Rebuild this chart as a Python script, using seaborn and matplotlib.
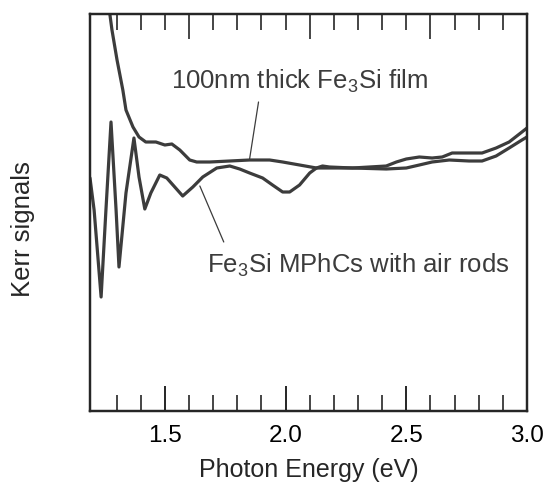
import numpy as np
import pandas as pd
import matplotlib
matplotlib.use("Agg")
import matplotlib.pyplot as plt
from matplotlib.ticker import FixedLocator, NullFormatter
import seaborn as sns

# Data (photon energy in eV, Kerr signal in arbitrary units)
film_x = [1.265, 1.281, 1.302, 1.326, 1.339, 1.368, 1.393, 1.421, 1.463, 1.500, 1.529,
          1.562, 1.603, 1.632, 1.686, 1.769, 1.851, 1.934, 1.988, 2.058, 2.128, 2.182,
          2.277, 2.417, 2.500, 2.554, 2.607, 2.678, 2.760, 2.814, 2.872, 2.926, 2.979, 3.000]
film_y = [410, 381, 351, 321, 301, 284, 274, 269, 269, 266, 267,
          261, 251, 249, 249, 250, 251, 251, 249, 246, 243, 243,
          243, 242, 243, 246, 249, 251, 250, 250, 255, 263, 271, 274]

mphc_x = [1.190, 1.207, 1.236, 1.256, 1.277, 1.298, 1.310, 1.339, 1.372, 1.393, 1.417,
          1.442, 1.479, 1.508, 1.574, 1.616, 1.657, 1.715, 1.769, 1.810, 1.851, 1.905,
          1.946, 1.988, 2.017, 2.058, 2.100, 2.128, 2.153, 2.182, 2.277, 2.417, 2.459,
          2.500, 2.554, 2.607, 2.649, 2.690, 2.748, 2.814, 2.872, 2.926, 2.979, 3.000]
mphc_y = [233, 201, 114, 201, 289, 201, 144, 218, 273, 234, 202,
          218, 236, 233, 215, 224, 234, 243, 245, 242, 238, 233,
          226, 219, 219, 226, 238, 243, 245, 244, 243, 245, 249,
          252, 254, 253, 254, 258, 258, 258, 263, 269, 279, 283]

film_label = "100nm thick Fe$_3$Si film"
mphc_label = "Fe$_3$Si MPhCs with air rods"
x_major = [1.5, 2.0, 2.5, 3.0]
x_major_labels = ["1.5", "2.0", "2.5", "3.0"]
x_minor = [1.3, 1.4, 1.6, 1.7, 1.8, 1.9, 2.1, 2.2, 2.3, 2.4, 2.6, 2.7, 2.8, 2.9]
top_major = [1.6, 2.1, 2.6]
top_minor = [1.3, 1.4, 1.5, 1.7, 1.8, 1.9, 2.0, 2.2, 2.3, 2.4, 2.5, 2.7, 2.8, 2.9]

sns.set_style("white")
plt.rcParams['font.family'] = ['Liberation Sans', 'DejaVu Sans']
plt.rcParams['mathtext.fontset'] = 'custom'
plt.rcParams['mathtext.rm'] = 'Liberation Sans'
plt.rcParams['mathtext.it'] = 'Liberation Sans'

df = pd.concat([
    pd.DataFrame({"E": film_x, "K": film_y, "s": "film"}),
    pd.DataFrame({"E": mphc_x, "K": mphc_y, "s": "mphc"}),
])

fig = plt.figure(figsize=(5.48, 4.90), dpi=100)
ax = fig.add_axes([90/548, 1 - 411/490, (527-90)/548, (411-14)/490])

sns.lineplot(data=df, x="E", y="K", units="s", estimator=None, sort=False,
             color="#3c3c3c", linewidth=2.3, ax=ax, legend=False)

ax.set_xlim(1.19, 3.0)
ax.set_ylim(0, 397)
ax.set_yticks([])
ax.xaxis.set_major_locator(FixedLocator(x_major))
ax.set_xticklabels(x_major_labels, fontsize=17.5)
ax.xaxis.set_minor_locator(FixedLocator(x_minor))
ax.tick_params(axis='x', which='major', direction='in', length=18, width=1.2, pad=10, colors='black')
ax.tick_params(axis='x', which='minor', direction='in', length=11.5, width=1.2)
ax.set_xlabel("Photon Energy (eV)", fontsize=18, labelpad=8)
ax.set_ylabel("Kerr signals", fontsize=18.5)
ax.yaxis.set_label_coords(-0.126, 0.458)
for sp in ax.spines.values():
    sp.set_linewidth(1.6)
    sp.set_color("black")

ax2 = ax.twiny()
ax2.set_xlim(ax.get_xlim())
ax2.xaxis.set_major_locator(FixedLocator(top_major))
ax2.xaxis.set_minor_locator(FixedLocator(top_minor))
ax2.xaxis.set_major_formatter(NullFormatter())
ax2.tick_params(axis='x', which='major', direction='in', length=18, width=1.2)
ax2.tick_params(axis='x', which='minor', direction='in', length=11.5, width=1.2)
for sp in ax2.spines.values():
    sp.set_linewidth(1.6)

ax.text(2.058, 330, film_label, fontsize=18.5, color="#3c3c3c", ha="center", va="center")
ax.plot([1.888, 1.851], [309, 252], color="#3c3c3c", linewidth=0.9)
ax.text(2.302, 146, mphc_label, fontsize=18.5, color="#3c3c3c", ha="center", va="center")
ax.plot([1.645, 1.744], [225, 169], color="#3c3c3c", linewidth=0.9)

fig.savefig("out.png", dpi=100)
